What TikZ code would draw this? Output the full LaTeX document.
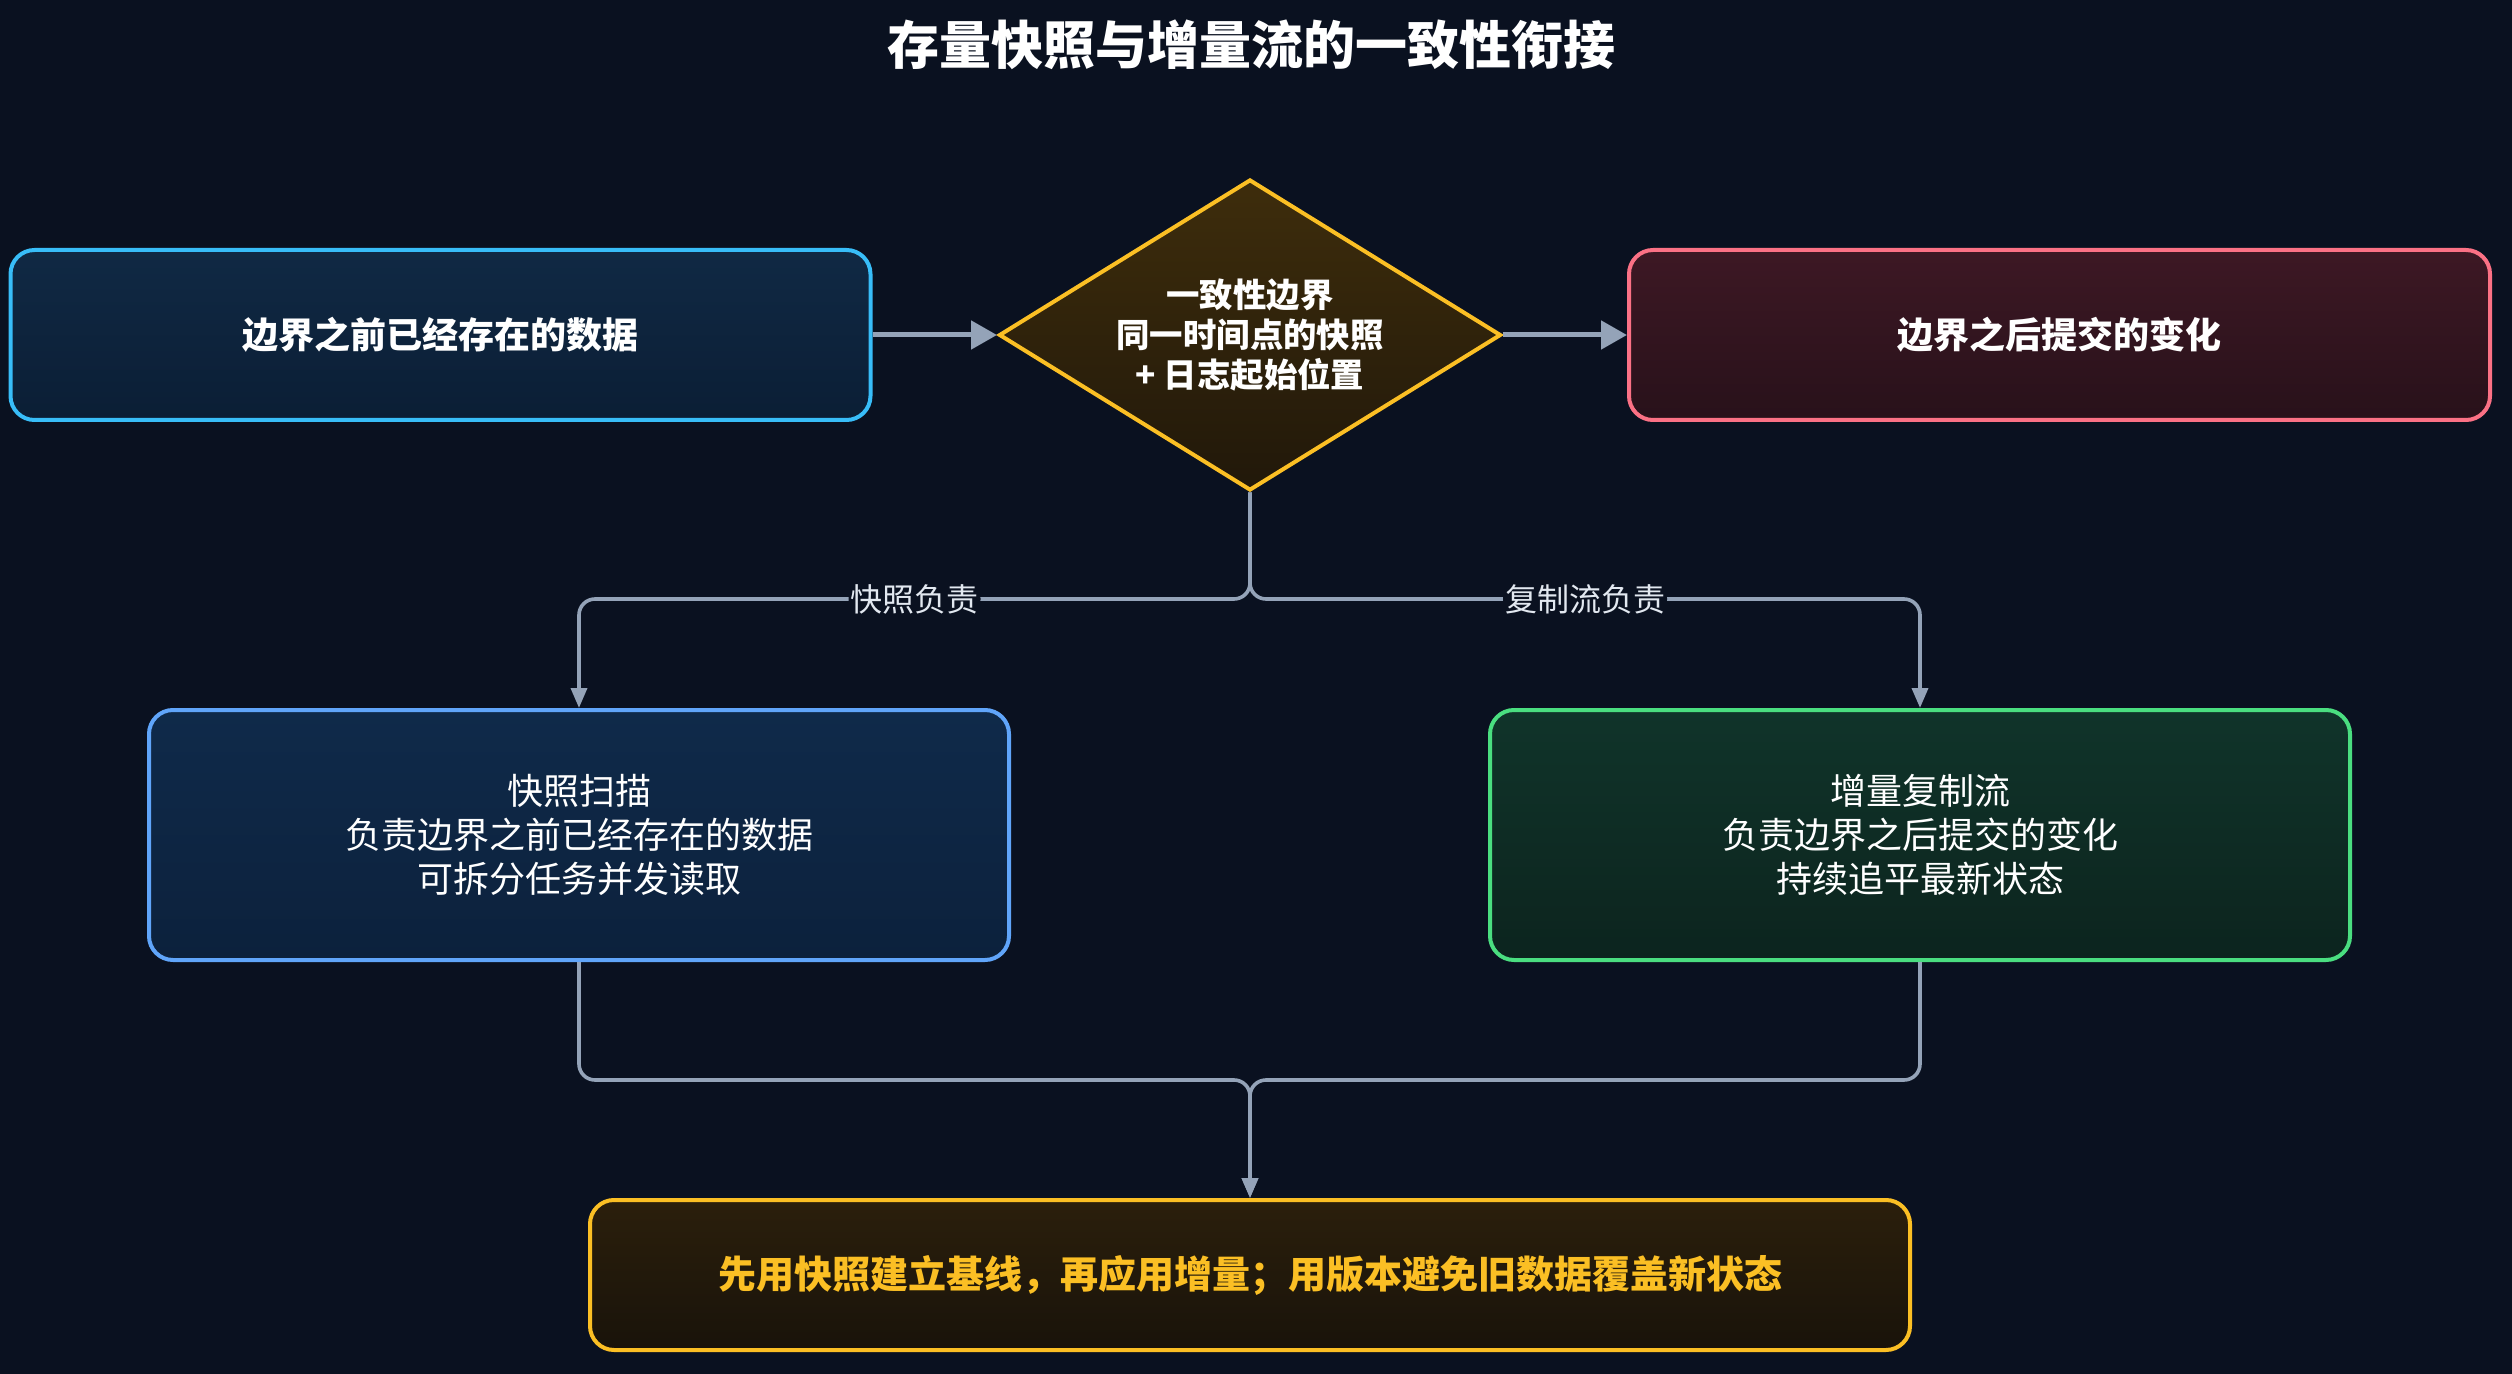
\documentclass[tikz,border=0pt]{standalone}
\usepackage{fontspec}
\setmainfont{Noto Sans CJK SC}
\usetikzlibrary{shapes.geometric,arrows.meta}
\definecolor{bg}{HTML}{0A1120}
\definecolor{conn}{HTML}{94A3B8}
\definecolor{lbltext}{HTML}{E2E8F0}
\definecolor{bA}{HTML}{38BDF8}
\definecolor{bB}{HTML}{FB7185}
\definecolor{bDia}{HTML}{FBBF24}
\definecolor{bC}{HTML}{60A5FA}
\definecolor{bD}{HTML}{4ADE80}
\definecolor{bE}{HTML}{FBBF24}
\begin{document}
\begin{tikzpicture}[x=0.5pt,y=-0.5pt,
  box/.style={rectangle,rounded corners=12pt,line width=2pt,minimum width=430pt,inner sep=0pt,align=center,text=white},
  bigbox/.style={box,minimum height=85pt,font=\bfseries\fontsize{18pt}{22pt}\selectfont},
  midbox/.style={box,minimum height=125pt,font=\fontsize{18pt}{22pt}\selectfont},
  thickarrow/.style={draw=conn,line width=2.5pt,-{Triangle[length=13pt,width=14pt]}},
  thinarrow/.style={draw=conn,line width=1.8pt,rounded corners=8pt,-{Triangle[length=10pt,width=8pt]}},
  lbl/.style={fill=bg,text=lbltext,inner sep=1pt,font=\fontsize{16pt}{19pt}\selectfont}
]
\fill[bg] (0,0) rectangle (2512,1374);
\useasboundingbox (0,0) rectangle (2512,1374);

\node[text=white,font=\bfseries\fontsize{26pt}{30pt}\selectfont] (title) at (1251,45) {存量快照与增量流的一致性衔接};

\node[bigbox,draw=bA,top color={rgb,255:red,16;green,41;blue,68},bottom color={rgb,255:red,11;green,30;blue,53}] (A) at (440.5,335) {边界之前已经存在的数据};
\node[bigbox,draw=bB,minimum width=430.5pt,top color={rgb,255:red,61;green,24;blue,36},bottom color={rgb,255:red,40;green,17;blue,26}] (B) at (2059.5,335) {边界之后提交的变化};

\node[diamond,aspect=1.614,minimum width=251pt,minimum height=155.5pt,inner sep=0pt,line width=2pt,draw=bDia,top color={rgb,255:red,62;green,45;blue,12},bottom color={rgb,255:red,33;green,24;blue,10},text=white,align=center,font=\bfseries\fontsize{16.7pt}{20pt}\selectfont] (dia) at (1250,335) {一致性边界\\同一时间点的快照\\+ 日志起始位置};

\node[midbox,draw=bC,top color={rgb,255:red,15;green,42;blue,74},bottom color={rgb,255:red,12;green,33;blue,60}] (C) at (579,835) {快照扫描\\负责边界之前已经存在的数据\\可拆分任务并发读取};
\node[midbox,draw=bD,top color={rgb,255:red,16;green,52;blue,42},bottom color={rgb,255:red,12;green,36;blue,30}] (D) at (1920,835) {增量复制流\\负责边界之后提交的变化\\持续追平最新状态};

\node[box,draw=bE,minimum width=660pt,minimum height=75pt,text=bE,top color={rgb,255:red,43;green,31;blue,12},bottom color={rgb,255:red,25;green,19;blue,10},font=\bfseries\fontsize{19pt}{22pt}\selectfont] (E) at (1250,1275) {先用快照建立基线，再应用增量；用版本避免旧数据覆盖新状态};

\coordinate (split) at (1250,599);
\coordinate (merge) at (1250,1080);

\draw[thickarrow] (A.east) -- (dia.west);
\draw[thickarrow] (dia.east) -- (B.west);

\draw[thinarrow] (dia.south) -- (split) -- node[lbl]{快照负责} (C.north |- split) -- (C.north);
\draw[thinarrow] (dia.south) -- (split) -- node[lbl]{复制流负责} (D.north |- split) -- (D.north);

\draw[thinarrow] (C.south) -- (C.south |- merge) -- (merge) -- (E.north);
\draw[thinarrow] (D.south) -- (D.south |- merge) -- (merge) -- (E.north);
\end{tikzpicture}
\end{document}
